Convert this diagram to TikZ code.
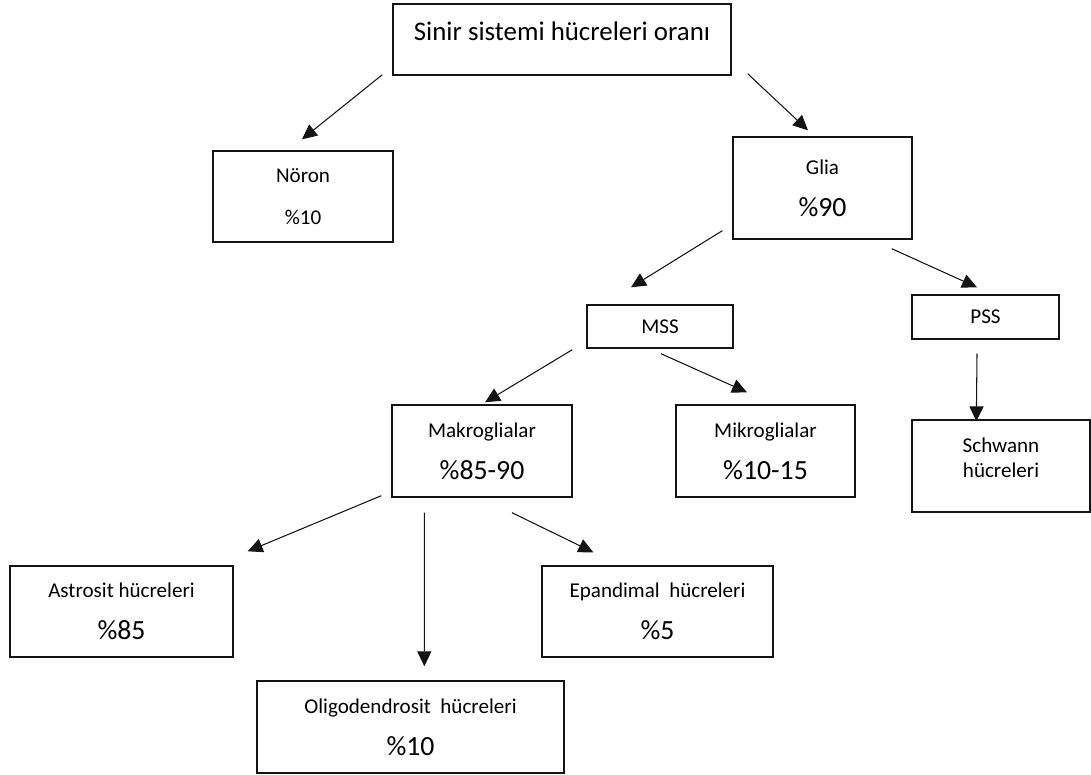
\documentclass[tikz,border=0pt]{standalone}
\usepackage{fontspec}
\setmainfont{Carlito}
\usepackage{tikz}
\usetikzlibrary{arrows.meta,calc}
\definecolor{lineblack}{RGB}{20,20,20}
\tikzset{
  cellbox/.style={draw=lineblack, line width=0.8pt, inner sep=2pt, align=center, font=\fontsize{12}{24}\selectfont},
  arr/.style={-{Triangle[length=8.5pt,width=8pt]}, draw=lineblack, line width=0.6pt},
}
\newcommand{\pct}[1]{{\fontsize{15.8}{24}\selectfont\%#1}}
\begin{document}
\begin{tikzpicture}[x=0.02cm, y=-0.02cm]
  \useasboundingbox (0,0) rectangle (1091,774);
  % boxes, one per level
  \node[cellbox, minimum width=6.76cm, minimum height=1.42cm, text depth=10pt, font=\fontsize{15.3}{18}\selectfont] (title) at (562,39.5) {Sinir sistemi hücreleri oranı};
  \node[cellbox, minimum width=3.6cm, minimum height=1.82cm] (noron) at (303,196.5) {Nöron\\\%10};
  \node[cellbox, minimum width=3.58cm, minimum height=2.04cm] (glia) at (822.5,188) {Glia\\\pct{90}};
  \node[cellbox, minimum width=2.92cm, minimum height=0.86cm] (mss) at (660,326.5) {MSS};
  \node[cellbox, minimum width=2.94cm, minimum height=0.88cm] (pss) at (985.5,317) {PSS};
  \node[cellbox, minimum width=3.6cm, minimum height=1.84cm] (makro) at (482,451) {Makroglialar\\\pct{85-90}};
  \node[cellbox, minimum width=3.58cm, minimum height=1.84cm] (mikro) at (765.5,451) {Mikroglialar\\\pct{10-15}};
  \node[cellbox, minimum width=3.56cm, minimum height=1.84cm, text depth=9pt, font=\fontsize{12}{14.2}\selectfont] (schwann) at (1001,466) {Schwann\\hücreleri};
  \node[cellbox, minimum width=4.46cm, minimum height=1.82cm] (astro) at (121.5,611.5) {Astrosit hücreleri\\\pct{85}};
  \node[cellbox, minimum width=4.62cm, minimum height=1.82cm] (epand) at (657.5,611.5) {Epandimal~ hücreleri\\\pct{5}};
  \node[cellbox, minimum width=6.14cm, minimum height=1.84cm] (oligo) at (410.5,727) {Oligodendrosit~ hücreleri\\\pct{10}};
  % arrows (free-standing, short of the boxes)
  \draw[arr] ($(title.south west)+(-10,-1)$) -- ($(noron.north)+(-1,-11)$);
  \draw[arr] ($(title.south east)+(16,-2)$) -- ($(glia.north)+(-14.5,-6)$);
  \draw[arr] ($(glia.south west)+(-10,-9)$) -- ($(mss.north)+(-29,-17)$);
  \draw[arr] ($(glia.south east)+(-21,9)$) -- ($(pss.north)+(-8.5,-7)$);
  \draw[arr] ($(mss.south west)+(-14,1)$) -- ($(makro.north)+(3,-2)$);
  \draw[arr] ($(mss.south)+(1,5)$) -- ($(mikro.north)+(-18.5,-12)$);
  \draw[arr] ($(pss.south)+(-8.5,14)$) -- ($(schwann.north west)+(65,2)$);
  \draw[arr] ($(makro.south west)+(-10,-2)$) -- ($(astro.north east)+(14,-14)$);
  \draw[arr] ($(makro.south west)+(33,15)$) -- ($(oligo.north west)+(168,-14)$);
  \draw[arr] ($(makro.south)+(30,15)$) -- ($(epand.north west)+(52,-13)$);
\end{tikzpicture}
\end{document}
